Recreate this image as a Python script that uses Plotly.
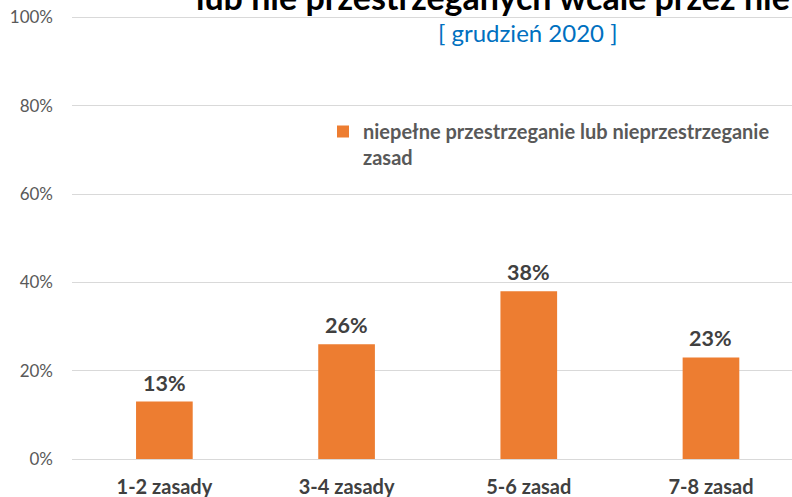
import plotly.graph_objects as go

categories = ["1-2 zasady", "3-4 zasady", "5-6 zasad", "7-8 zasad"]
values = [13, 26, 38, 23]
series_name = "<b>niepełne przestrzeganie lub nieprzestrzeganie<br>zasad</b>"
y_ticks = [0, 20, 40, 60, 80, 100]
y_tick_labels = ["0%", "20%", "40%", "60%", "80%", "100%"]
title_text = "lub nie przestrzeganych wcale przez nie"
subtitle_text = "[ grudzień 2020 ]"

W, H = 792, 497
ML, MR, MT, MB = 72, 0, 13, 38
PW, PH = W - ML - MR, H - MT - MB
UNIT = 182.2
X0 = -0.507
X1 = X0 + PW / UNIT
Y_TOP = 101


def px_x(sx):
    return (sx - ML) / PW


def px_y(sy):
    return 1 - (sy - MT) / PH


FONT = "Lato"
fig = go.Figure()
fig.add_trace(go.Bar(
    x=list(range(len(categories))), y=values, name=series_name,
    marker=dict(color="#ED7D31", line=dict(width=0)),
    width=0.311, showlegend=True, hoverinfo="skip",
))

for i, v in enumerate(values):
    fig.add_annotation(x=i, y=v, xref="x", yref="y", text=f"<b>{v}%</b>",
                       showarrow=False, yanchor="bottom", yshift=4,
                       font=dict(family=FONT, size=21.5, color="#404040"))

fig.add_annotation(x=px_x(194), y=px_y(19), xref="paper", yref="paper",
                   text=f"<b>{title_text}</b>", showarrow=False,
                   xanchor="left", yanchor="bottom",
                   font=dict(family=FONT, size=34, color="#000000"))

fig.add_annotation(x=px_x(528), y=px_y(32), xref="paper", yref="paper",
                   text=subtitle_text, showarrow=False, xanchor="center", yanchor="middle",
                   font=dict(family=FONT, size=24, color="#0070C0"))

fig.update_layout(
    width=W, height=H,
    margin=dict(l=ML, r=MR, t=MT, b=MB, pad=0, autoexpand=False),
    paper_bgcolor="white", plot_bgcolor="white",
    legend=dict(x=px_x(323), y=px_y(112), xanchor="left", yanchor="top", valign="top",
                bgcolor="rgba(0,0,0,0)", font=dict(family=FONT, size=20, color="#595959"),
                itemwidth=30, tracegroupgap=0),
    xaxis=dict(range=[X0, X1], tickmode="array",
               tickvals=list(range(len(categories))),
               ticktext=[f"<b>{c}</b>" for c in categories],
               tickfont=dict(family=FONT, size=20, color="#404040"),
               showgrid=False, zeroline=False, showline=False, ticks="",
               ticklabelstandoff=14, automargin=False, fixedrange=True),
    yaxis=dict(range=[0, Y_TOP], tickmode="array", tickvals=y_ticks, ticktext=y_tick_labels,
               tickfont=dict(family=FONT, size=17, color="#595959"),
               showgrid=True, gridcolor="#D9D9D9", gridwidth=1,
               zeroline=True, zerolinecolor="#D9D9D9", zerolinewidth=1,
               showline=False, ticks="", ticklabelstandoff=18, automargin=False,
               fixedrange=True),
)

fig.write_html("out.html", config={"displayModeBar": False},
               post_script="document.body.style.margin='0';document.body.style.overflow='hidden';")
